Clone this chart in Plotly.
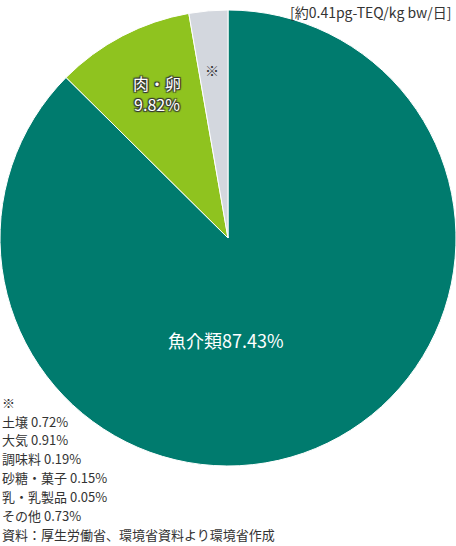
import plotly.graph_objects as go

# 食品等からのダイオキシン類の一日摂取量（割合）
categories = ["魚介類", "肉・卵", "※"]
shares = [87.43, 9.82, 2.75]
colors = ["#007b6e", "#8fc31f", "#d3d7de"]

# ※ の内訳
other_items = ["土壌", "大気", "調味料", "砂糖・菓子", "乳・乳製品", "その他"]
other_values = [0.72, 0.91, 0.19, 0.15, 0.05, 0.73]

unit_label = "[約0.41pg-TEQ/kg bw/日]"
source_label = "資料：厚生労働省、環境省資料より環境省作成"

FONT = "Noto Sans CJK JP"
W, H = 456, 546

fig = go.Figure(go.Pie(
    labels=categories,
    values=shares,
    sort=False,
    direction="clockwise",
    rotation=0,
    marker=dict(colors=colors, line=dict(color="white", width=1)),
    textinfo="none",
    hoverinfo="label+percent",
    domain=dict(x=[0, 1], y=[1 - 466 / H, 1 - 10 / H]),
    showlegend=False,
))

annotations = [
    dict(x=226 / W, y=1 - 340 / H, text=f"{categories[0]}{shares[0]:.2f}%",
         font=dict(size=18, color="white")),
    dict(x=157 / W, y=1 - 93 / H, text=f"{categories[1]}<br>{shares[1]:.2f}%",
         font=dict(size=16, color="white",
                   shadow="1px 1px 1px #333, -1px -1px 1px #333, 1px -1px 1px #333, -1px 1px 1px #333")),
    dict(x=212 / W, y=1 - 70 / H, text=categories[2],
         font=dict(size=14, color="#333")),
    dict(x=453 / W, y=1, text=unit_label, xanchor="right", yanchor="top",
         font=dict(size=14, color="#333")),
    dict(x=0, y=1 - 402 / H, text="※", xanchor="left",
         font=dict(size=13, color="#333")),
    dict(x=0, y=0, text=source_label, xanchor="left", yanchor="bottom",
         font=dict(size=13, color="#333")),
]

line_y = [421, 439, 458, 477, 496, 515]
for name, val, ly in zip(other_items, other_values, line_y):
    annotations.append(dict(x=0, y=1 - ly / H, text=f"{name} {val:.2f}%", xanchor="left",
                            font=dict(size=13, color="#333")))

for a in annotations:
    a.update(xref="paper", yref="paper", showarrow=False)
    a.setdefault("xanchor", "center")
    a.setdefault("yanchor", "middle")

fig.update_layout(
    width=W, height=H,
    margin=dict(l=0, r=0, t=0, b=0),
    paper_bgcolor="white",
    plot_bgcolor="white",
    font=dict(family=FONT, color="#333"),
    annotations=annotations,
)

fig.write_html("out.html", config={"displayModeBar": False},
               post_script="document.body.style.margin='0';document.body.style.overflow='hidden';")
